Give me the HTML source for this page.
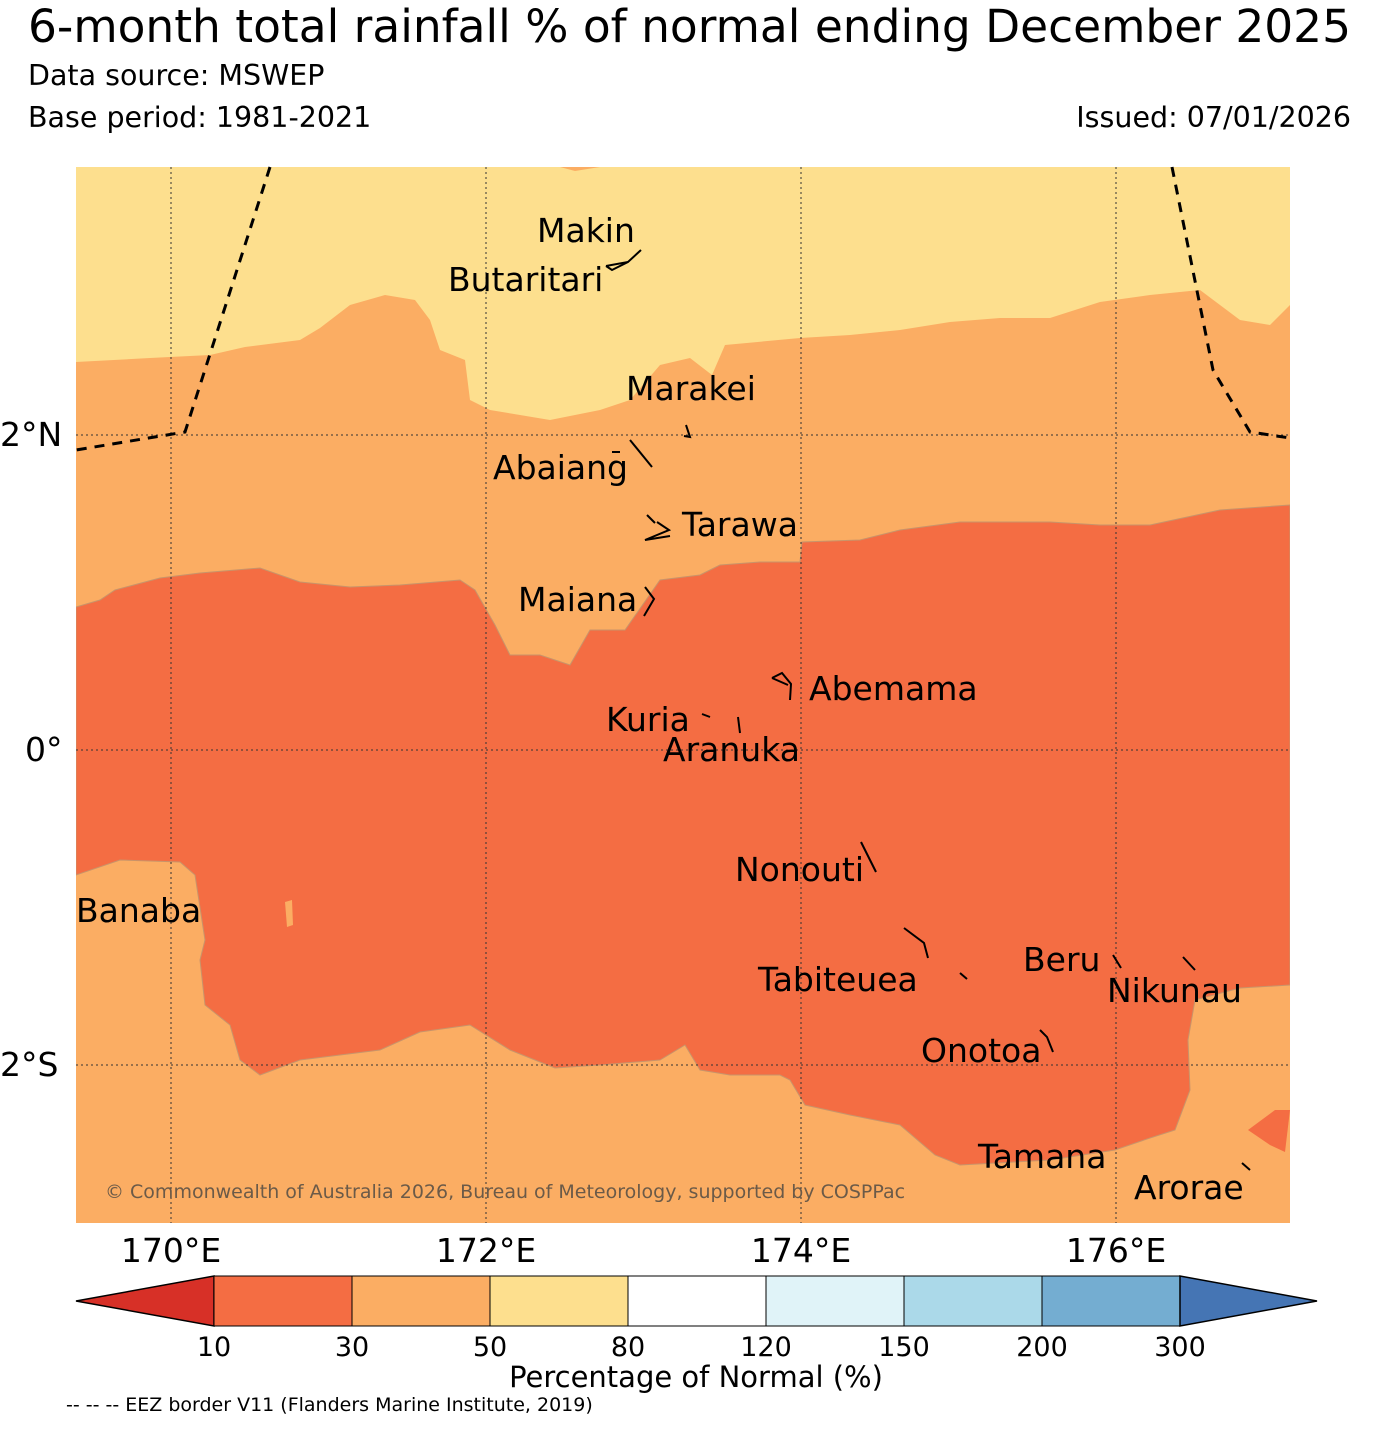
<!DOCTYPE html>
<html><head><meta charset="utf-8">
<style>
body{margin:0;background:#fff;}
svg text{font-family:"DejaVu Sans","Liberation Sans",sans-serif;}
</style></head>
<body>
<svg id="root" width="1380" height="1426" viewBox="0 0 1380 1426" xmlns="http://www.w3.org/2000/svg">
<text x="28" y="42" font-size="45" textLength="1323" lengthAdjust="spacingAndGlyphs">6-month total rainfall % of normal ending December 2025</text>
<text x="28" y="85" font-size="28.5">Data source: MSWEP</text>
<text x="28" y="127" font-size="28.5">Base period: 1981-2021</text>
<text x="1351" y="127" font-size="28.5" text-anchor="end">Issued: 07/01/2026</text>

<g>
<clipPath id="mc"><rect x="76" y="167" width="1214" height="1056"/></clipPath>
<g clip-path="url(#mc)">
<rect x="76" y="167" width="1214" height="1056" fill="#fbad63"/>
<polygon fill="#fddf8e" points="76,167 560,167 575,171 600,167 1290,167 1290,305 1270,325 1240,320 1200,290 1150,295 1100,302 1050,318 1000,318 950,322 900,330 850,335 800,338 725,345 712,375 690,358 660,365 630,400 600,410 550,420 490,410 470,400 465,360 440,350 430,320 415,300 385,295 350,305 320,328 300,340 245,347 210,355 150,358 76,362"/>
<polygon fill="#f46d43" stroke="#c8946a" stroke-width="1" points="76,607 100,600 115,590 160,578 200,573 260,568 300,582 350,587 400,585 460,580 475,590 495,625 510,655 540,655 570,665 590,630 625,630 660,580 700,575 720,565 760,562 800,562 802,542 860,540 900,530 960,522 1050,522 1100,525 1150,525 1220,510 1290,505 1290,985 1240,988 1195,1000 1188,1040 1190,1090 1175,1130 1150,1138 1115,1150 1050,1160 960,1165 935,1155 900,1125 850,1115 805,1105 790,1080 780,1075 730,1075 700,1070 685,1045 660,1060 600,1065 555,1068 510,1050 470,1025 420,1032 380,1050 340,1055 300,1060 260,1075 240,1060 230,1025 205,1005 200,960 205,940 195,875 180,862 120,860 76,875"/>
<polygon fill="#fbad63" points="285,902 292,900 293,925 287,927"/>
<polygon fill="#f46d43" points="1248,1130 1275,1110 1290,1110 1285,1152 1270,1145"/>
</g>
<g stroke="#333" stroke-width="1" stroke-dasharray="2,3">
<line x1="171" y1="167" x2="171" y2="1223"/><line x1="486" y1="167" x2="486" y2="1223"/>
<line x1="801" y1="167" x2="801" y2="1223"/><line x1="1116" y1="167" x2="1116" y2="1223"/>
<line x1="76" y1="435" x2="1290" y2="435"/><line x1="76" y1="750" x2="1290" y2="750"/><line x1="76" y1="1065" x2="1290" y2="1065"/>
</g>
<g fill="none" stroke="#000" stroke-width="3" stroke-dasharray="10,8">
<polyline points="270,167 185,432 76,450"/>
<polyline points="1172,167 1213,370 1250,432 1290,438"/>
</g>
<g fill="none" stroke="#000" stroke-width="2">
<polyline points="606,266 628,262 641,250"/><polyline points="606,266 612,270 628,262"/>
<polyline points="686,425 690,437 684,436"/>
<polyline points="630,440 652,467"/><polyline points="612,452 620,452"/>
<polyline points="647,515 655,523"/><polyline points="657,522 669,530 645,540 670,536"/>
<polyline points="645,587 654,599 644,616"/>
<polyline points="772,678 782,673 791,684 790,700"/><polyline points="772,678 788,685"/>
<polyline points="702,714 710,717"/><polyline points="738,717 740,733"/>
<polyline points="861,842 876,872"/>
<polyline points="904,928 924,943 928,958"/><polyline points="960,973 967,979"/>
<polyline points="1113,955 1121,968"/><polyline points="1183,957 1195,970"/>
<polyline points="1040,1030 1047,1037 1053,1052"/>
<polyline points="1242,1163 1250,1170"/>
</g>
<g font-size="33" fill="#000">
<text x="537" y="242">Makin</text><text x="448" y="291">Butaritari</text>
<text x="626" y="400">Marakei</text><text x="493" y="479">Abaiang</text>
<text x="682" y="536">Tarawa</text><text x="518" y="611">Maiana</text>
<text x="809" y="700">Abemama</text><text x="606" y="731">Kuria</text>
<text x="663" y="761">Aranuka</text><text x="735" y="881">Nonouti</text>
<text x="76" y="922">Banaba</text><text x="1023" y="971">Beru</text>
<text x="758" y="991">Tabiteuea</text><text x="1107" y="1002">Nikunau</text>
<text x="921" y="1062">Onotoa</text><text x="978" y="1168">Tamana</text>
<text x="1134" y="1199">Arorae</text>
</g>
<text x="105" y="1198" font-size="19" fill="#6b5a48">© Commonwealth of Australia 2026, Bureau of Meteorology, supported by COSPPac</text>
</g>
<g font-size="33">
<text x="0" y="446">2°N</text><text x="25" y="761">0°</text><text x="0" y="1076">2°S</text>
<text x="171" y="1262" text-anchor="middle">170°E</text><text x="486" y="1262" text-anchor="middle">172°E</text>
<text x="801" y="1262" text-anchor="middle">174°E</text><text x="1116" y="1262" text-anchor="middle">176°E</text>
</g>
<g id="cbar"></g>
<text x="696" y="1387" font-size="29" text-anchor="middle">Percentage of Normal (%)</text>
<text x="66" y="1411" font-size="19">-- -- -- EEZ border V11 (Flanders Marine Institute, 2019)</text>
</svg>
<script>
const binColors = ["#f46d43","#fbad63","#fddf8e","#ffffff","#e0f3f8","#abd9e9","#74add1"];
const tickLabels = ["10","30","50","80","120","150","200","300"];
const ns="http://www.w3.org/2000/svg";
const g=document.getElementById('cbar');
const x0=214,w=138,y0=1276,h=50;
function mk(t,a){const e=document.createElementNS(ns,t);for(const k in a)e.setAttribute(k,a[k]);g.appendChild(e);return e;}
const lt=mk('polygon',{points:`76,${y0+h/2} ${x0},${y0} ${x0},${y0+h}`,fill:'#d73027',stroke:'#000','stroke-width':1.5});


binColors.forEach((c,i)=>{
 const r=mk('rect',{x:x0+i*w,y:y0,width:w,height:h,fill:c,stroke:'#000','stroke-width':1});
 
 
});
const xe=x0+binColors.length*w;
const rt=mk('polygon',{points:`${xe},${y0} ${xe},${y0+h} ${xe+137},${y0+h/2}`,fill:'#4575b4',stroke:'#000','stroke-width':1.5});


tickLabels.forEach((t,i)=>{
 const e=mk('text',{x:x0+i*w,y:1356,'font-size':27,'text-anchor':'middle'});
 e.textContent=t;
 
 
});
</script>
</body></html>
